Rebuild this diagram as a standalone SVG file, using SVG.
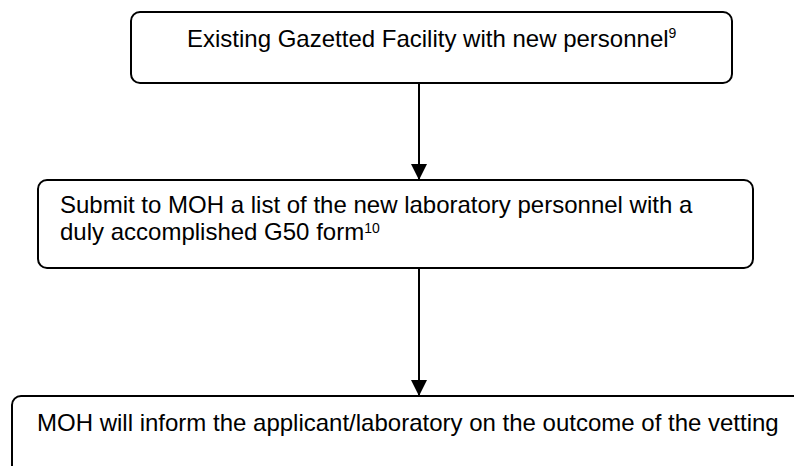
<svg xmlns="http://www.w3.org/2000/svg" width="794" height="466" viewBox="0 0 794 466">
<defs>
<marker id="arr" markerUnits="userSpaceOnUse" markerWidth="16" markerHeight="16" viewBox="0 0 16 16" refX="16" refY="8" orient="auto">
<path d="M0,0 L16,8 L0,16 Z" fill="#000"/>
</marker>
</defs>
<style>
.box{fill:#fff;stroke:#000;stroke-width:2}
.t{font-family:"Liberation Sans",Arial,sans-serif;font-size:24px;fill:#000}
.sup{font-size:14px}
.c{stroke:#000;stroke-width:2;fill:none}
</style>
<rect width="794" height="466" fill="#fff"/>
<g id="n1">
<rect class="box" x="131" y="12" width="601" height="71" rx="9"/>
<text class="t" x="187" y="47">Existing Gazetted Facility with new personnel<tspan class="sup" dy="-9">9</tspan></text>
</g>
<g id="n2">
<rect class="box" x="38" y="180" width="715" height="88" rx="9"/>
<text class="t" x="60" y="213">Submit to MOH a list of the new laboratory personnel with a</text>
<text class="t" x="60" y="240">duly accomplished G50 form<tspan class="sup" dy="-7">10</tspan></text>
</g>
<g id="n3">
<rect class="box" x="12" y="396" width="800" height="80" rx="9"/>
<text class="t" x="37" y="431">MOH will inform the applicant/laboratory on the outcome of the vetting</text>
</g>
<g id="connectors">
<line class="c" x1="419" y1="83" x2="419" y2="180" marker-end="url(#arr)"/>
<line class="c" x1="419" y1="268" x2="419" y2="396" marker-end="url(#arr)"/>
</g>
</svg>
